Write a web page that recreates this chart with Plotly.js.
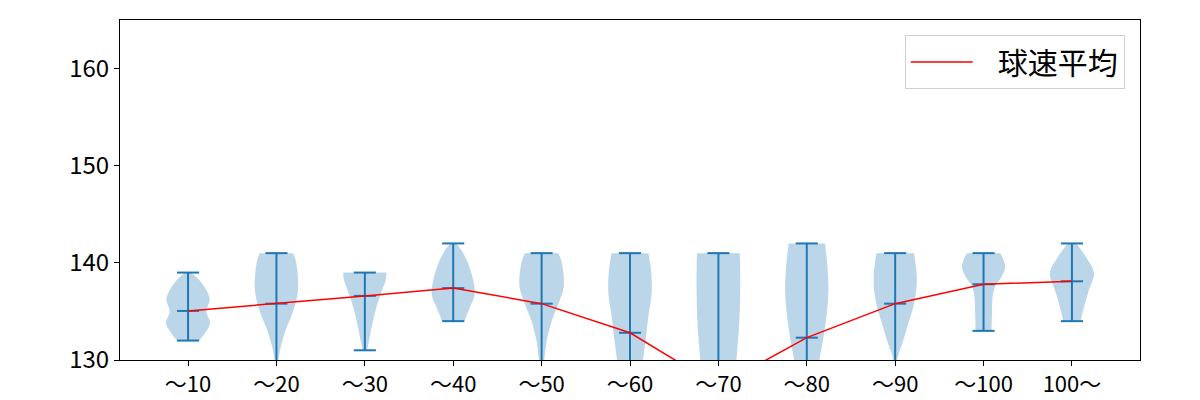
<!DOCTYPE html>
<html>
<head>
<meta charset="utf-8">
<script src="https://cdn.plot.ly/plotly-3.0.1.min.js"></script>
<style>html,body{margin:0;padding:0;background:#fff;}#chart{width:1200px;height:400px;}</style>
</head>
<body>
<div id="chart"></div>
<script>
// Categories (x tick labels)
const categories = ["〜10","〜20","〜30","〜40","〜50","〜60","〜70","〜80","〜90","〜100","100〜"];
// Mean speed per category (red line)
const means = [135.05, 135.8, 136.6, 137.4, 135.8, 132.8, 127.3, 132.3, 135.8, 137.8, 138.1];
// Min / max speed per category
const mins = [132, 128, 131, 134, 128, 126, 122, 125, 128, 133, 134];
const maxs = [139, 141, 139, 142, 141, 141, 141, 142, 141, 141, 142];
// Violin density profiles: speeds and relative half-width (1 = widest)
const profileSpeeds = [
  [132, 132.75, 133.8, 135, 136.2, 137.05, 138.25, 139],
  [128, 130.2, 131.4, 133.1, 134.8, 137.05, 139.97, 141],
  [131, 132.1, 133.8, 135.5, 137.05, 138.25, 139],
  [134, 134.5, 135.5, 136.7, 138.25, 139.97, 141.34, 142],
  [128, 130.2, 132.1, 134.1, 135.85, 137.56, 139.97, 141],
  [126, 130.2, 132.47, 134.5, 136.9, 139.3, 141],
  [122, 130, 134, 138, 141],
  [125, 130.2, 132.1, 134.5, 137.2, 139.97, 142],
  [128, 130.2, 131.75, 133.8, 135.85, 138.25, 141],
  [133, 134.8, 136.5, 137.56, 138.6, 139.6, 141],
  [134, 135.5, 137.2, 138.97, 140.66, 142]
];
const profileWidths = [
  [0.5, 0.76, 1.0, 0.83, 0.98, 0.86, 0.5, 0.12],
  [0.03, 0.1, 0.2, 0.42, 0.72, 0.97, 0.9, 0.76],
  [0.1, 0.2, 0.35, 0.53, 0.76, 0.95, 0.98],
  [0.51, 0.59, 0.77, 0.97, 0.9, 0.67, 0.36, 0.14],
  [0.05, 0.13, 0.24, 0.47, 0.77, 1.0, 0.92, 0.76],
  [0.4, 0.6, 0.73, 0.83, 0.98, 0.95, 0.83],
  [0.6, 0.82, 0.95, 0.99, 0.97],
  [0.4, 0.59, 0.74, 0.89, 0.98, 0.92, 0.82],
  [0.03, 0.1, 0.33, 0.6, 0.86, 0.98, 0.85],
  [0.36, 0.38, 0.41, 0.52, 0.82, 0.98, 0.76],
  [0.39, 0.55, 0.77, 1.0, 0.62, 0.2]
];

const positions = categories.map((_, i) => i + 1);
const halfMax = 0.25;   // half of violin width (0.5)
const capHalf = 0.125;  // half of cap line length
const blue = "#1f77b4";
const fillCol = "rgba(31,119,180,0.3)";

const traces = [];
positions.forEach((c, i) => {
  const ys = profileSpeeds[i];
  const ws = profileWidths[i];
  traces.push({
    type: "scatter", mode: "lines", x: ws.map(w => c - w * halfMax), y: ys,
    line: {width: 0, shape: "spline", smoothing: 1, color: fillCol},
    showlegend: false, hoverinfo: "skip"
  });
  traces.push({
    type: "scatter", mode: "lines", x: ws.map(w => c + w * halfMax), y: ys,
    line: {width: 0, shape: "spline", smoothing: 1, color: fillCol},
    fill: "tonextx", fillcolor: fillCol,
    showlegend: false, hoverinfo: "skip"
  });
});

// Vertical bars and caps (min / max / mean)
const cx = [], cy = [];
positions.forEach((c, i) => {
  cx.push(c, c, null); cy.push(mins[i], maxs[i], null);
  [mins[i], maxs[i], means[i]].forEach(v => {
    cx.push(c - capHalf, c + capHalf, null); cy.push(v, v, null);
  });
});
traces.push({
  type: "scatter", mode: "lines", x: cx, y: cy,
  line: {color: blue, width: 2}, showlegend: false, hoverinfo: "skip"
});

// Mean line
traces.push({
  type: "scatter", mode: "lines", x: positions, y: means, name: "\u00a0\u00a0\u00a0球速平均",
  line: {color: "red", width: 1.5}
});

const font = "Noto Sans CJK JP, Noto Sans, DejaVu Sans, sans-serif";
const layout = {
  width: 1200, height: 400,
  margin: {l: 120, r: 60, t: 20, b: 40},
  paper_bgcolor: "#fff", plot_bgcolor: "#fff",
  font: {family: font, size: 24, color: "#000"},
  showlegend: true,
  legend: {
    x: 0.985, y: 0.956, xanchor: "right", yanchor: "top",
    bgcolor: "rgba(255,255,255,0.8)", bordercolor: "#d0d0d0", borderwidth: 1,
    font: {family: font, size: 30, color: "#000"}, itemwidth: 62
  },
  xaxis: {
    range: [0.23, 11.77], tickmode: "array", tickvals: positions, ticktext: categories,
    ticks: "outside", ticklen: 5, tickwidth: 1, tickcolor: "#000",
    showline: true, linecolor: "#000", linewidth: 1, mirror: true,
    showgrid: false, zeroline: false, tickfont: {size: 22}
  },
  yaxis: {
    range: [130, 165], tickmode: "array", tickvals: [130, 140, 150, 160],
    ticks: "outside", ticklen: 5, tickwidth: 1, tickcolor: "#000",
    showline: true, linecolor: "#000", linewidth: 1, mirror: true,
    showgrid: false, zeroline: false, tickfont: {size: 24}
  }
};
Plotly.newPlot("chart", traces, layout, {displayModeBar: false, staticPlot: true});
</script>
</body>
</html>
